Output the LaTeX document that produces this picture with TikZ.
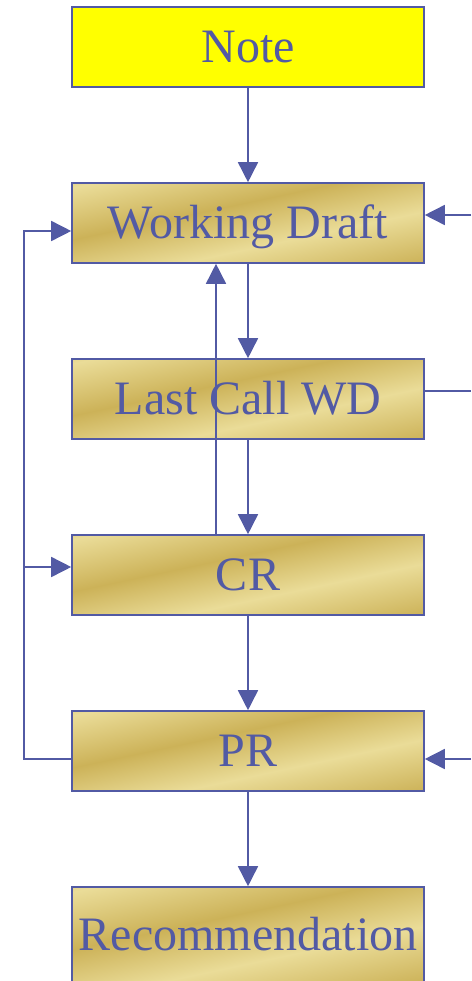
\documentclass[tikz,border=0pt]{standalone}
\usepackage{fontspec}
\setmainfont{Liberation Serif}
\usetikzlibrary{arrows.meta}
\definecolor{ink}{RGB}{82,90,164}
\definecolor{notefill}{RGB}{255,255,0}
\definecolor{goldlt}{RGB}{234,220,152}
\definecolor{golddk}{RGB}{204,178,88}
\pgfdeclareverticalshading{goldband}{100bp}{color(0bp)=(goldlt); color(20bp)=(golddk); color(40bp)=(goldlt); color(58bp)=(golddk); color(78bp)=(goldlt); color(92bp)=(golddk); color(100bp)=(goldlt)}

\tikzset{every picture/.style={line width=0.75pt}}
\tikzset{
  box/.style={draw=ink, line width=1.2pt, minimum width=264pt, minimum height=60pt, inner sep=0pt, text=ink, text height=23.8pt, text depth=0pt, font=\fontsize{36}{40}\selectfont},
  notebox/.style={box, fill=notefill},
  stage/.style={box, shading=goldband, shading angle=12},
  flow/.style={draw=ink, line width=1.2pt, -{Triangle[length=15pt,width=15pt]}},
  wire/.style={draw=ink, line width=1.2pt}
}

\begin{document}
\begin{tikzpicture}[x=0.75pt,y=0.75pt,yscale=-1,xscale=1]
    \useasboundingbox (0,0) rectangle (471,981);

    \node [notebox] (note) at (248,47) {Note};
    \node [stage] (wd) at (248,223) {Working Draft};
    \node [stage] (lcwd) at (248,399) {Last Call WD};
    \node [stage] (cr) at (248,575) {CR};
    \node [stage] (pr) at (248,751) {PR};
    \node [stage, minimum height=72pt] (rec) at (248,935) {Recommendation};

    \coordinate (back) at (24,759);
    \coordinate (crin) at ([yshift=-6pt]cr.west);
    \coordinate (wdin) at (471,215);
    \coordinate (lcout) at (471,391);
    \coordinate (prin) at (471,759);

    \draw [flow] (note.south) -- (wd.north);
    \draw [flow] (wd.south) -- (lcwd.north);
    \draw [flow] (lcwd.south) -- (cr.north);
    \draw [flow] ([xshift=-24pt]cr.north) -- ([xshift=-24pt]wd.south);
    \draw [flow] (cr.south) -- (pr.north);
    \draw [flow] (pr.south) -- (rec.north);
    \draw [flow] ([yshift=6pt]pr.west) -- (back) |- ([yshift=6pt]wd.west);
    \draw [flow] (back |- crin) -- (crin);
    \draw [flow] (wdin) -- ([yshift=-6pt]wd.east);
    \draw [wire] ([yshift=-6pt]lcwd.east) -- (lcout);
    \draw [flow] (prin) -- ([yshift=6pt]pr.east);
\end{tikzpicture}
\end{document}
